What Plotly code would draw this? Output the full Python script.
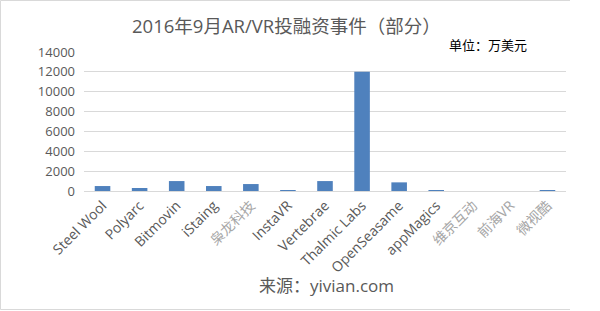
import plotly.graph_objects as go

categories = ["Steel Wool", "Polyarc", "Bitmovin", "iStaing", "枭龙科技", "InstaVR",
              "Vertebrae", "Thalmic Labs", "OpenSeasame", "appMagics", "维京互动", "前海VR", "微视酷"]
values = [500, 300, 1000, 500, 700, 100, 1000, 12000, 870, 100, 0, 0, 100]
cjk_labels = {"枭龙科技", "维京互动", "前海VR", "微视酷"}
y_ticks = [0, 2000, 4000, 6000, 8000, 10000, 12000, 14000]
y_ticktext = [str(v) for v in y_ticks]

ticktext = [f'<span style="color:#a6a6a6">{c}</span>' if c in cjk_labels else c for c in categories]

fig = go.Figure(go.Bar(
    x=categories, y=values,
    marker=dict(color="#4f81bd", line=dict(width=0)),
    width=0.42,
))

W, H = 600, 311
l, r, t, b = 84, 34, 52, 120
pw, ph = W - l - r, H - t - b

def px(x):
    return (x - l) / pw

def py(y):
    return (H - b - y) / ph

fig.update_layout(
    width=W, height=H,
    margin=dict(l=l, r=r, t=t, b=b),
    paper_bgcolor="white", plot_bgcolor="white",
    showlegend=False,
    font=dict(family="Open Sans, Noto Sans CJK SC", color="#595959", size=13),
    xaxis=dict(
        tickmode="array", tickvals=categories, ticktext=ticktext,
        tickangle=-45, tickfont=dict(size=14, color="#595959"),
        showgrid=False, showline=True, linecolor="#d9d9d9", linewidth=1,
        ticks="", range=[-0.5, len(categories) - 0.5],
    ),
    yaxis=dict(
        tickmode="array", tickvals=y_ticks, ticktext=y_ticktext,
        range=[0, 14000], showgrid=True, gridcolor="#d9d9d9", gridwidth=1,
        zeroline=False, tickfont=dict(size=13, color="#595959"),
        ticks="", ticklabelstandoff=8,
    ),
    annotations=[
        dict(text="2016年9月AR/VR投融资事件（部分）", x=px(286), y=py(25), xref="paper", yref="paper",
             showarrow=False, font=dict(size=18.5, color="#595959"), xanchor="center", yanchor="middle"),
        dict(text="单位：万美元", x=px(488), y=py(45), xref="paper", yref="paper",
             showarrow=False, font=dict(size=13, color="#000000"), xanchor="center", yanchor="middle"),
        dict(text="来源：yivian.com", x=px(326), y=py(285), xref="paper", yref="paper",
             showarrow=False, font=dict(size=17, color="#595959"), xanchor="center", yanchor="middle"),
    ],
    shapes=[
        dict(type="path", xref="paper", yref="paper",
             path=f"M {px(570)},{py(0.5)} L {px(0.5)},{py(0.5)} L {px(0.5)},{py(309.5)} L {px(570)},{py(309.5)}",
             line=dict(color="#d9d9d9", width=1), layer="below"),
    ],
)

fig.write_html("out.html")
